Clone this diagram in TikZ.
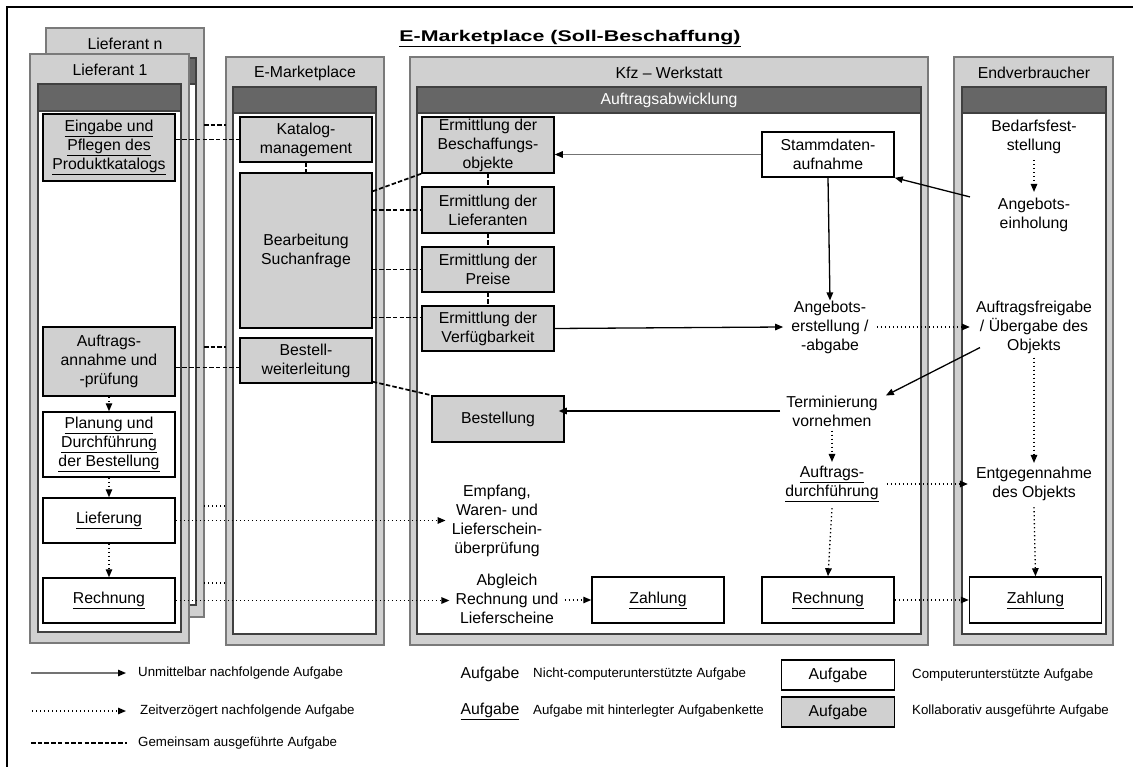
\documentclass[tikz,border=0pt]{standalone}
\usepackage{fontspec}
\setmainfont{Liberation Sans}
\usetikzlibrary{arrows.meta}

\definecolor{feldgrau}{HTML}{D0D0D0}
\definecolor{balkengrau}{HTML}{666666}
\definecolor{kantengrau}{HTML}{7A7A7A}

\begin{document}
\begin{tikzpicture}[x=1pt,y=-1pt,
	txt/.style={align=center,font=\fontsize{15.8}{19}\selectfont,inner sep=0pt},
	aufgabe/.style={txt,draw,line width=1.5pt,fill=white,minimum width=132pt},
	kollab/.style={aufgabe,fill=feldgrau},
	panel/.style={fill=feldgrau,draw=kantengrau,line width=1.3pt},
	innen/.style={fill=white,draw=black!75,line width=1.2pt},
	balken/.style={fill=balkengrau,draw=black!75,line width=1.2pt},
	folge/.style={line width=1.3pt,-{Triangle[length=8pt,width=6.5pt,color=black]}},
	spaeter/.style={folge,dash pattern=on 1.4pt off 2.6pt},
	gemeinsam/.style={line width=1.7pt,dash pattern=on 4.5pt off 2.2pt},
	stummel/.style={line width=1.5pt,dash pattern=on 1.4pt off 2.6pt},
	legtxt/.style={anchor=west,inner sep=0pt,font=\fontsize{13.3}{15}\selectfont}]
	\useasboundingbox (0,0) rectangle (1133,767);
	
	% outer frame, open to the right and bottom
	\draw[line width=2.4pt] (7,767) -- (7,7) -- (1133,7);
	\node[font=\bfseries\fontsize{15.5}{18}\selectfont,xscale=1.38,anchor=base] (titel) at (570,41.5) {\underline{E-Marketplace (Soll-Beschaffung)}};
	
	% lanes
	% Lieferant n (behind)
	\draw[panel] (46,28) rectangle (204,617);
	\draw[innen] (54,84) rectangle (196,605);
	\draw[balken] (54,58) rectangle (196,84);
	\node[txt] (lfnKopf) at (125,44) {Lieferant n};
	
	% Lieferant 1
	\draw[panel] (30,54) rectangle (189,643);
	\draw[innen] (38,111) rectangle (181,632);
	\draw[balken] (38,84) rectangle (181,111);
	\node[txt] (lf1Kopf) at (110,70) {Lieferant 1};
	
	% E-Marketplace
	\draw[panel] (226,57) rectangle (384,645);
	\draw[innen] (233,113) rectangle (376,634);
	\draw[balken] (233,87) rectangle (376,113);
	\node[txt] (empKopf) at (305,73) {E-Marketplace};
	
	% Kfz-Werkstatt
	\draw[panel] (410,57) rectangle (928,645);
	\draw[innen] (417,113) rectangle (921,634);
	\draw[balken] (417,87) rectangle (921,113);
	\node[txt] (kfzKopf) at (669,73) {Kfz -- Werkstatt};
	\node[txt,text=white] (kfzBalken) at (669,100) {Auftragsabwicklung};
	
	% Endverbraucher
	\draw[panel] (954,57) rectangle (1113,645);
	\draw[innen] (962,113) rectangle (1106,634);
	\draw[balken] (962,87) rectangle (1106,113);
	\node[txt] (endKopf) at (1034,73) {Endverbraucher};
	
	% tasks of Lieferant 1
	\node[kollab,minimum height=67pt] (eingabe) at (109,147.5) {\underline{Eingabe und}\\\underline{Pflegen des}\\\underline{Produktkatalogs}};
	\node[kollab,minimum height=69pt] (annahme) at (109,361.5) {Auftrags-\\annahme und\\-prüfung};
	\node[aufgabe,minimum height=65pt] (planung) at (109,444.5) {\underline{Planung und}\\\underline{Durchführung}\\\underline{der Bestellung}};
	\node[aufgabe,minimum height=45pt] (lieferung) at (109,520.5) {\underline{Lieferung}};
	\node[aufgabe,minimum height=45pt] (rechnungL) at (109,600.5) {\underline{Rechnung}};
	
	% tasks of the E-Marketplace
	\node[kollab,minimum height=45pt] (katalog) at (306,139.5) {Katalog-\\management};
	\node[kollab,minimum height=155pt] (suche) at (306,250.5) {Bearbeitung\\Suchanfrage};
	\node[kollab,minimum height=45pt] (weiter) at (306,360.5) {Bestell-\\weiterleitung};
	
	% tasks of the Kfz-Werkstatt
	\node[kollab,minimum height=56pt] (beschaff) at (488,145) {Ermittlung der\\Beschaffungs-\\objekte};
	\node[kollab,minimum height=46pt] (lieferanten) at (488,210) {Ermittlung der\\Lieferanten};
	\node[kollab,minimum height=45pt] (preise) at (488,269.5) {Ermittlung der\\Preise};
	\node[kollab,minimum height=45pt] (verfueg) at (488,328.5) {Ermittlung der\\Verfügbarkeit};
	\node[kollab,minimum height=46pt] (bestellung) at (498,419) {Bestellung};
	\node[aufgabe,minimum height=45pt] (stamm) at (828,154.5) {Stammdaten-\\aufnahme};
	\node[txt] (angebot) at (830,327) {Angebots-\\erstellung /\\-abgabe};
	\node[txt] (termin) at (832,411) {Terminierung\\vornehmen};
	\node[txt] (durchf) at (832,484) {\underline{Auftrags-}\\\underline{durchführung}};
	\node[txt] (empfang) at (497,521) {Empfang,\\Waren- und\\Lieferschein-\\überprüfung};
	\node[txt] (abgleich) at (507,599) {Abgleich\\Rechnung und\\Lieferscheine};
	\node[aufgabe,minimum height=46pt] (zahlungK) at (658,600) {\underline{Zahlung}};
	\node[aufgabe,minimum height=46pt] (rechnungK) at (828,600) {\underline{Rechnung}};
	
	% tasks of the Endverbraucher
	\node[txt] (bedarf) at (1034,137) {Bedarfsfest-\\stellung};
	\node[txt] (einhol) at (1034,215) {Angebots-\\einholung};
	\node[txt] (freigabe) at (1034,327) {Auftragsfreigabe\\/ Übergabe des\\Objekts};
	\node[txt] (entgegen) at (1034,484) {Entgegennahme\\des Objekts};
	\node[aufgabe,minimum height=46pt] (zahlungE) at (1035.5,600) {\underline{Zahlung}};
	
	% stubs for Lieferant n
	\coordinate (lfnA) at (204,125);
	\coordinate (lfnB) at (204,347);
	\coordinate (lfnC) at (204,506);
	\coordinate (lfnD) at (204,583);
	\draw[gemeinsam] (lfnA) -- ++(22,0);
	\draw[gemeinsam] (lfnB) -- ++(22,0);
	\draw[stummel] (lfnC) -- ++(22,0);
	\draw[stummel] (lfnD) -- ++(22,0);
	
	% jointly executed tasks
	\draw[gemeinsam] (eingabe.east |- katalog.west) -- (katalog.west);
	\draw[gemeinsam] (katalog.south) -- (suche.north);
	\draw[gemeinsam] ([yshift=-19pt]suche.north east) -- (beschaff.south west);
	\draw[gemeinsam] (lieferanten.west -| suche.east) -- (lieferanten.west);
	\draw[gemeinsam] (preise.west -| suche.east) -- (preise.west);
	\draw[gemeinsam] ([yshift=11pt]verfueg.west -| suche.east) -- ([yshift=11pt]verfueg.west);
	\draw[gemeinsam] (beschaff.south) -- (lieferanten.north);
	\draw[gemeinsam] (lieferanten.south) -- (preise.north);
	\draw[gemeinsam] (preise.south) -- (verfueg.north);
	\draw[gemeinsam] ([yshift=-6pt]annahme.east) -- ([yshift=-6pt]annahme.east -| weiter.west);
	\draw[gemeinsam] ([yshift=2pt]weiter.south east) -- (bestellung.north west);
	
	% direct successors
	\draw[folge,black!55] (stamm.west) -- (stamm.west -| beschaff.east);
	\draw[folge] (stamm.south) -- (angebot.north);
	\draw[folge] (verfueg.east) -- ([xshift=-8pt]angebot.west);
	\draw[folge] ([xshift=-64pt,yshift=1pt]einhol.north) -- (stamm.south east);
	\draw[folge] ([xshift=-54pt,yshift=6pt]freigabe.south) -- ([xshift=8pt]termin.north east);
	\draw[folge] ([xshift=-6pt]termin.west) -- ([xshift=-6pt]termin.west -| bestellung.east);
	
	% delayed successors
	\draw[spaeter] (annahme.south) -- (planung.north);
	\draw[spaeter] (planung.south) -- (lieferung.north);
	\draw[spaeter] (lieferung.south) -- (rechnungL.north);
	\draw[spaeter] (lieferung.east) -- ([xshift=-6pt]lieferung.east -| empfang.west);
	\draw[spaeter] (rechnungL.east) -- ([xshift=-6pt]rechnungL.east -| abgleich.west);
	\draw[spaeter] ([xshift=6pt]abgleich.east |- zahlungK.west) -- (zahlungK.west);
	\draw[spaeter] ([xshift=8pt]angebot.east) -- ([xshift=-6pt]freigabe.west);
	\draw[spaeter] ([yshift=-4pt]termin.south) -- ([yshift=4pt]durchf.north);
	\draw[spaeter] ([xshift=8pt]durchf.east) -- ([xshift=-8pt]entgegen.west);
	\draw[spaeter] ([yshift=-6pt]durchf.south) -- (rechnungK.north);
	\draw[spaeter] (rechnungK.east) -- (zahlungE.west);
	\draw[spaeter] ([yshift=-6pt]bedarf.south) -- ([yshift=6pt]einhol.north);
	\draw[spaeter] ([yshift=-4pt]freigabe.south) -- ([yshift=4pt]entgegen.north);
	\draw[spaeter] ([yshift=-6pt]entgegen.south) -- (zahlungE.north);
	
	% legend
	\coordinate (lgA1) at (31,673);
	\coordinate (lgA2) at (126,673);
	\coordinate (lgB1) at (32,711);
	\coordinate (lgB2) at (126,711);
	\coordinate (lgC1) at (31,743);
	\coordinate (lgC2) at (127,743);
	\draw[folge,black!55] (lgA1) -- (lgA2);
	\draw[spaeter] (lgB1) -- (lgB2);
	\draw[gemeinsam] (lgC1) -- (lgC2);
	\node[legtxt] (lgA) at (138,673) {Unmittelbar nachfolgende Aufgabe};
	\node[legtxt] (lgB) at (140,711) {Zeitverzögert nachfolgende Aufgabe};
	\node[legtxt] (lgC) at (138,743) {Gemeinsam ausgeführte Aufgabe};
	\node[txt] (lgNicht) at (490,674) {Aufgabe};
	\node[txt] (lgKette) at (490,711) {\underline{Aufgabe}};
	\node[legtxt] at (533,674) {Nicht-computerunterstützte Aufgabe};
	\node[legtxt] at (533,711) {Aufgabe mit hinterlegter Aufgabenkette};
	\node[aufgabe,minimum width=113pt,minimum height=30pt] (lgComp) at (838,675) {Aufgabe};
	\node[kollab,minimum width=113pt,minimum height=30pt] (lgKoll) at (838,712) {Aufgabe};
	\node[legtxt] at (912,675) {Computerunterstützte Aufgabe};
	\node[legtxt] at (912,711) {Kollaborativ ausgeführte Aufgabe};
\end{tikzpicture}
\end{document}
